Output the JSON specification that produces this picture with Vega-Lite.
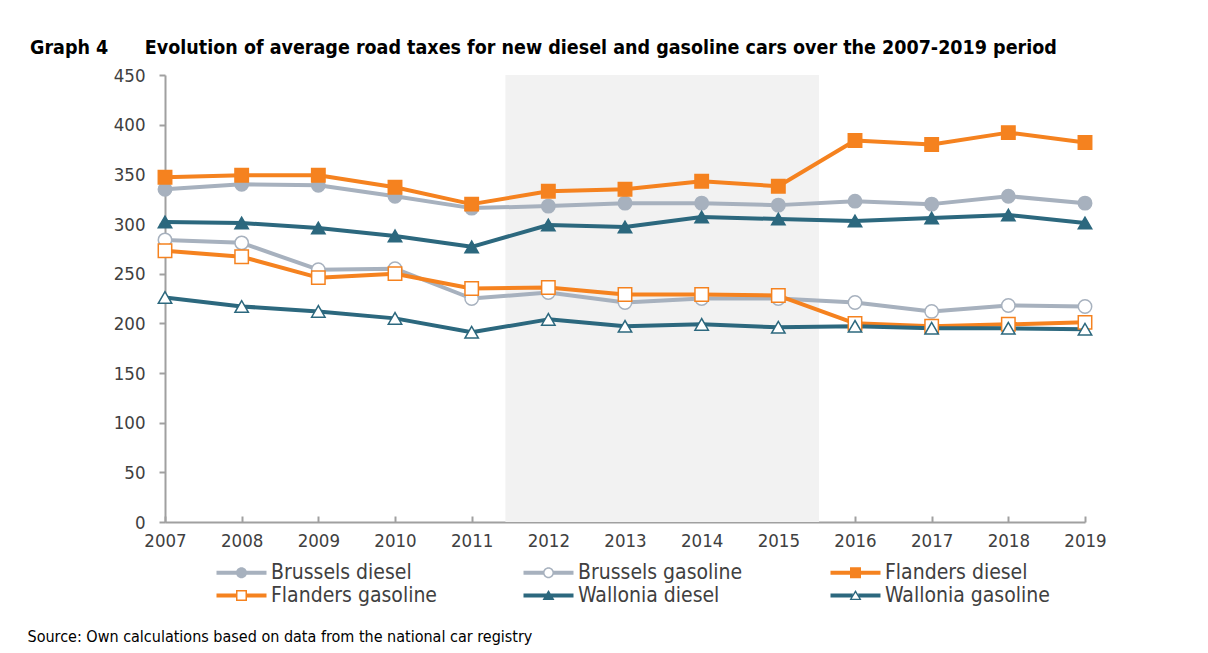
{
  "$schema": "https://vega.github.io/schema/vega-lite/v6.json",
  "width": 920,
  "height": 447,
  "autosize": {"type": "none"},
  "padding": {"left": 165, "top": 75, "right": 123, "bottom": 131},
  "background": "#ffffff",
  "config": {
    "view": {"stroke": null},
    "font": "DejaVu Sans Condensed",
    "axis": {"labelFont": "DejaVu Sans Condensed", "titleFont": "DejaVu Sans Condensed"},
    "legend": {"labelFont": "DejaVu Sans Condensed"}
  },
  "title": {
    "text": "Graph 4\u00a0\u00a0\u00a0\u00a0\u00a0\u00a0Evolution of average road taxes for new diesel and gasoline cars over the 2007-2019 period",
    "anchor": "start",
    "frame": "group",
    "dx": -135,
    "offset": 8,
    "fontSize": 19.5,
    "fontWeight": "bold",
    "color": "#000000",
    "font": "DejaVu Sans Condensed"
  },
  "datasets": {
    "band": [{"start": 2011.44, "end": 2015.53, "lo": 0, "hi": 450}],
    "taxes": [
      {"series": "Brussels diesel", "year": 2007, "value": 335},
      {"series": "Brussels diesel", "year": 2008, "value": 340},
      {"series": "Brussels diesel", "year": 2009, "value": 339},
      {"series": "Brussels diesel", "year": 2010, "value": 328},
      {"series": "Brussels diesel", "year": 2011, "value": 316},
      {"series": "Brussels diesel", "year": 2012, "value": 318},
      {"series": "Brussels diesel", "year": 2013, "value": 321},
      {"series": "Brussels diesel", "year": 2014, "value": 321},
      {"series": "Brussels diesel", "year": 2015, "value": 319},
      {"series": "Brussels diesel", "year": 2016, "value": 323},
      {"series": "Brussels diesel", "year": 2017, "value": 320},
      {"series": "Brussels diesel", "year": 2018, "value": 328},
      {"series": "Brussels diesel", "year": 2019, "value": 321},
      {"series": "Brussels gasoline", "year": 2007, "value": 284},
      {"series": "Brussels gasoline", "year": 2008, "value": 281},
      {"series": "Brussels gasoline", "year": 2009, "value": 254},
      {"series": "Brussels gasoline", "year": 2010, "value": 255},
      {"series": "Brussels gasoline", "year": 2011, "value": 225},
      {"series": "Brussels gasoline", "year": 2012, "value": 231},
      {"series": "Brussels gasoline", "year": 2013, "value": 221},
      {"series": "Brussels gasoline", "year": 2014, "value": 225},
      {"series": "Brussels gasoline", "year": 2015, "value": 225},
      {"series": "Brussels gasoline", "year": 2016, "value": 221},
      {"series": "Brussels gasoline", "year": 2017, "value": 212},
      {"series": "Brussels gasoline", "year": 2018, "value": 218},
      {"series": "Brussels gasoline", "year": 2019, "value": 217},
      {"series": "Flanders diesel", "year": 2007, "value": 347},
      {"series": "Flanders diesel", "year": 2008, "value": 349},
      {"series": "Flanders diesel", "year": 2009, "value": 349},
      {"series": "Flanders diesel", "year": 2010, "value": 337},
      {"series": "Flanders diesel", "year": 2011, "value": 320},
      {"series": "Flanders diesel", "year": 2012, "value": 333},
      {"series": "Flanders diesel", "year": 2013, "value": 335},
      {"series": "Flanders diesel", "year": 2014, "value": 343},
      {"series": "Flanders diesel", "year": 2015, "value": 338},
      {"series": "Flanders diesel", "year": 2016, "value": 384},
      {"series": "Flanders diesel", "year": 2017, "value": 380},
      {"series": "Flanders diesel", "year": 2018, "value": 392},
      {"series": "Flanders diesel", "year": 2019, "value": 382},
      {"series": "Flanders gasoline", "year": 2007, "value": 273},
      {"series": "Flanders gasoline", "year": 2008, "value": 267},
      {"series": "Flanders gasoline", "year": 2009, "value": 246},
      {"series": "Flanders gasoline", "year": 2010, "value": 250},
      {"series": "Flanders gasoline", "year": 2011, "value": 235},
      {"series": "Flanders gasoline", "year": 2012, "value": 236},
      {"series": "Flanders gasoline", "year": 2013, "value": 229},
      {"series": "Flanders gasoline", "year": 2014, "value": 229},
      {"series": "Flanders gasoline", "year": 2015, "value": 228},
      {"series": "Flanders gasoline", "year": 2016, "value": 200},
      {"series": "Flanders gasoline", "year": 2017, "value": 197},
      {"series": "Flanders gasoline", "year": 2018, "value": 199},
      {"series": "Flanders gasoline", "year": 2019, "value": 201},
      {"series": "Wallonia diesel", "year": 2007, "value": 302},
      {"series": "Wallonia diesel", "year": 2008, "value": 301},
      {"series": "Wallonia diesel", "year": 2009, "value": 296},
      {"series": "Wallonia diesel", "year": 2010, "value": 288},
      {"series": "Wallonia diesel", "year": 2011, "value": 277},
      {"series": "Wallonia diesel", "year": 2012, "value": 299},
      {"series": "Wallonia diesel", "year": 2013, "value": 297},
      {"series": "Wallonia diesel", "year": 2014, "value": 307},
      {"series": "Wallonia diesel", "year": 2015, "value": 305},
      {"series": "Wallonia diesel", "year": 2016, "value": 303},
      {"series": "Wallonia diesel", "year": 2017, "value": 306},
      {"series": "Wallonia diesel", "year": 2018, "value": 309},
      {"series": "Wallonia diesel", "year": 2019, "value": 301},
      {"series": "Wallonia gasoline", "year": 2007, "value": 226},
      {"series": "Wallonia gasoline", "year": 2008, "value": 217},
      {"series": "Wallonia gasoline", "year": 2009, "value": 212},
      {"series": "Wallonia gasoline", "year": 2010, "value": 205},
      {"series": "Wallonia gasoline", "year": 2011, "value": 191},
      {"series": "Wallonia gasoline", "year": 2012, "value": 204},
      {"series": "Wallonia gasoline", "year": 2013, "value": 197},
      {"series": "Wallonia gasoline", "year": 2014, "value": 199},
      {"series": "Wallonia gasoline", "year": 2015, "value": 196},
      {"series": "Wallonia gasoline", "year": 2016, "value": 197},
      {"series": "Wallonia gasoline", "year": 2017, "value": 195},
      {"series": "Wallonia gasoline", "year": 2018, "value": 195},
      {"series": "Wallonia gasoline", "year": 2019, "value": 194}
    ]
  },
  "layer": [
    {
      "data": {"name": "band"},
      "mark": {"type": "rect", "color": "#F2F2F2"},
      "encoding": {
        "x": {"field": "start", "type": "quantitative", "scale": {"domain": [2007, 2019], "nice": false, "zero": false},
          "axis": {
            "values": [2007, 2008, 2009, 2010, 2011, 2012, 2013, 2014, 2015, 2016, 2017, 2018, 2019],
            "format": "d",
            "grid": false,
            "domainColor": "#A0A0A0", "domainWidth": 2,
            "tickColor": "#A0A0A0", "tickWidth": 2, "tickSize": -6,
            "labelFontSize": 18.5, "labelColor": "#404040", "labelPadding": 15,
            "labelFlush": false,
            "title": "Source: Own calculations based on data from the national car registry",
            "titleX": -138, "titleY": 119, "titleAlign": "left", "titleBaseline": "alphabetic",
            "titleFontSize": 16, "titleFontWeight": "normal", "titleColor": "#000000"
          }},
        "x2": {"field": "end"},
        "y": {"field": "lo", "type": "quantitative", "scale": {"domain": [0, 450], "nice": false},
          "axis": {
            "values": [0, 50, 100, 150, 200, 250, 300, 350, 400, 450],
            "grid": false,
            "domainColor": "#A0A0A0", "domainWidth": 2,
            "tickColor": "#A0A0A0", "tickWidth": 2, "tickSize": 6,
            "labelFontSize": 18.5, "labelColor": "#404040", "labelPadding": 14,
            "labelFlush": false,
            "title": null
          }},
        "y2": {"field": "hi"}
      }
    },
    {
      "data": {"name": "taxes"},
      "mark": {"type": "line", "strokeWidth": 4, "strokeJoin": "round"},
      "encoding": {
        "x": {"field": "year", "type": "quantitative"},
        "y": {"field": "value", "type": "quantitative"},
        "stroke": {"field": "series", "type": "nominal",
          "scale": {"domain": ["Brussels diesel", "Brussels gasoline", "Flanders diesel", "Flanders gasoline", "Wallonia diesel", "Wallonia gasoline"],
                    "range": ["#A7B1BE", "#A7B1BE", "#F5821F", "#F5821F", "#2C687E", "#2C687E"]},
          "legend": null},
        "detail": {"field": "series", "type": "nominal"}
      }
    },
    {
      "data": {"name": "taxes"},
      "mark": {"type": "point", "opacity": 1, "strokeWidth": 1.5},
      "encoding": {
        "x": {"field": "year", "type": "quantitative"},
        "y": {"field": "value", "type": "quantitative"},
        "stroke": {"field": "series", "type": "nominal", "legend": null},
        "fill": {"field": "series", "type": "nominal",
          "scale": {"domain": ["Brussels diesel", "Brussels gasoline", "Flanders diesel", "Flanders gasoline", "Wallonia diesel", "Wallonia gasoline"],
                    "range": ["#A7B1BE", "#FFFFFF", "#F5821F", "#FFFFFF", "#2C687E", "#FFFFFF"]},
          "legend": null},
        "shape": {"field": "series", "type": "nominal",
          "scale": {"domain": ["Brussels diesel", "Brussels gasoline", "Flanders diesel", "Flanders gasoline", "Wallonia diesel", "Wallonia gasoline"],
                    "range": ["circle", "circle", "square", "square", "triangle-up", "triangle-up"]},
          "legend": null},
        "size": {"field": "series", "type": "nominal",
          "scale": {"domain": ["Brussels diesel", "Brussels gasoline", "Flanders diesel", "Flanders gasoline", "Wallonia diesel", "Wallonia gasoline"],
                    "range": [180, 180, 190, 190, 290, 290]},
          "legend": null}
      }
    },
    {
      "data": {"name": "taxes"},
      "transform": [{"filter": "false"}],
      "mark": {"type": "point", "opacity": 1, "filled": true, "strokeWidth": 0},
      "encoding": {
        "x": {"field": "year", "type": "quantitative"},
        "y": {"field": "value", "type": "quantitative"},
        "fill": {"field": "series", "type": "nominal", "title": null,
          "scale": {"domain": ["Brussels diesel", "Brussels gasoline", "Flanders diesel", "Flanders gasoline", "Wallonia diesel", "Wallonia gasoline"],
                    "range": ["#A7B1BE", "#A7B1BE", "#F5821F", "#F5821F", "#2C687E", "#2C687E"]},
          "legend": {
            "orient": "none", "legendX": 66, "legendY": 487, "columns": 3, "direction": "horizontal",
            "symbolSize": 100, "symbolStrokeWidth": 0, "symbolOpacity": 1,
            "labelFontSize": 21, "labelColor": "#404040", "labelOffset": 19, "labelLimit": 400,
            "columnPadding": 86, "rowPadding": 1, "gridAlign": "all"
          }},
        "shape": {"field": "series", "type": "nominal", "title": null,
          "scale": {"domain": ["Brussels diesel", "Brussels gasoline", "Flanders diesel", "Flanders gasoline", "Wallonia diesel", "Wallonia gasoline"],
                    "range": [
                      "M-5,-0.4H5V0.4H-5Z M-1.1,0A1.1,1.1 0 1 1 1.1,0A1.1,1.1 0 1 1 -1.1,0Z",
                      "M-5,-0.4H-0.95V0.4H-5Z M0.95,-0.4H5V0.4H0.95Z M-1.1,0A1.1,1.1 0 1 1 1.1,0A1.1,1.1 0 1 1 -1.1,0Z M-0.8,0A0.8,0.8 0 1 0 0.8,0A0.8,0.8 0 1 0 -0.8,0Z",
                      "M-5,-0.4H5V0.4H-5Z M-1.1,-1.1H1.1V1.1H-1.1Z",
                      "M-5,-0.4H-1.05V0.4H-5Z M1.05,-0.4H5V0.4H1.05Z M-1.1,-1.1H1.1V1.1H-1.1Z M-0.8,-0.8V0.8H0.8V-0.8Z",
                      "M-5,-0.4H5V0.4H-5Z M0,-1.1L1.2,0.9H-1.2Z",
                      "M-5,-0.4H-0.5L-0.8,0.4H-5Z M0.5,-0.4H5V0.4H0.8Z M0,-1.1L1.2,0.9H-1.2Z M0,-0.55L-0.75,0.65H0.75Z"
                    ]},
          "legend": {
            "orient": "none", "legendX": 66, "legendY": 487, "columns": 3, "direction": "horizontal",
            "symbolSize": 100, "symbolStrokeWidth": 0, "symbolOpacity": 1,
            "labelFontSize": 21, "labelColor": "#404040", "labelOffset": 19, "labelLimit": 400,
            "columnPadding": 86, "rowPadding": 1, "gridAlign": "all"
          }}
      }
    }
  ],
  "resolve": {"scale": {"fill": "independent", "shape": "independent"}, "legend": {"fill": "independent", "shape": "independent"}}
}
